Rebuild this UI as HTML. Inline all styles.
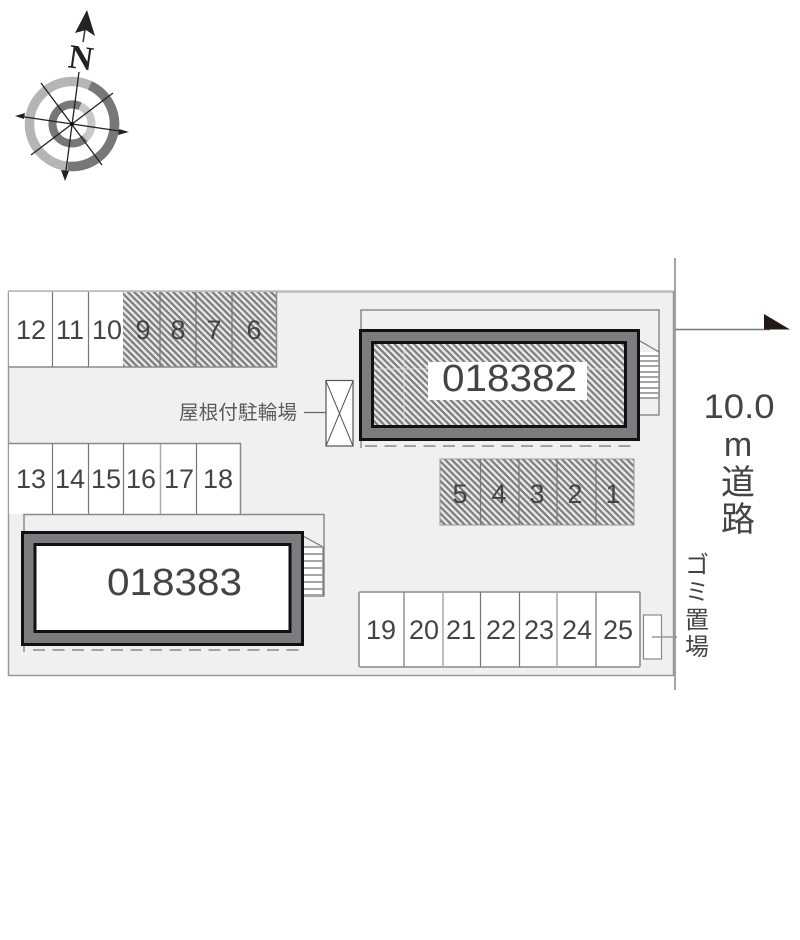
<!DOCTYPE html>
<html><head><meta charset="utf-8"><style>
html,body{margin:0;padding:0;background:#fff}
svg{display:block}
text{font-family:"Liberation Sans","Noto Sans CJK JP",sans-serif;fill:#444}
.n{font-size:27px;text-anchor:middle}
.j{font-size:19.5px;fill:#5a5a5a}
.r{font-size:34px;text-anchor:middle}
.l{stroke:#8a8a8a;stroke-width:1.5;fill:none}
.c{stroke:#777;stroke-width:1.2;fill:none}
</style></head><body>
<svg width="800" height="940" viewBox="0 0 800 940" xmlns="http://www.w3.org/2000/svg">
<defs>
<pattern id="h" width="4.6" height="4.6" patternUnits="userSpaceOnUse" patternTransform="rotate(45)">
<rect width="4.6" height="4.6" fill="#e8e8e8"/><rect width="4.6" height="2.2" fill="#7d7d7d"/>
</pattern>
</defs>
<rect width="800" height="940" fill="#fff"/>
<!-- site -->
<rect x="8.5" y="291.5" width="665" height="384" fill="#f0f0f0" stroke="#999" stroke-width="1.5"/>
<path d="M8 291.5H673" stroke="#bbb" stroke-width="2.5"/>
<!-- top row -->
<rect x="9" y="292" width="114" height="75" fill="#fff"/>
<rect x="123" y="292" width="153" height="75" fill="url(#h)"/>
<path class="l" d="M8.5 367H276.5V292"/>
<path class="c" d="M52.5 292V367M88.5 292V367M160 292V367M196 292V367M232 292V367"/>
<!-- second row -->
<rect x="9" y="444" width="232" height="70" fill="#fff"/>
<path class="l" d="M8.5 443.5H240.5V514"/>
<path class="c" d="M52.5 444V514M88.5 444V514M123.5 444V514M196.5 444V514"/>
<path d="M160.500 444V514" stroke="#aaa" stroke-width="1.5"/>
<!-- building A -->
<path class="l" d="M361 329V310H659V415H639"/>
<path d="M361 440V448" class="c"/>
<path d="M365 446H637" stroke="#888" stroke-width="1.5" stroke-dasharray="12 7.500" fill="none"/>
<rect x="640" y="352" width="19" height="46" fill="#fff"/>
<path d="M640 341L659 352V398" stroke="#777" stroke-width="1.2" fill="none"/>
<path d="M640 356H659M640 361H659M640 366H659M640 372H659M640 377H659M640 382H659M640 388H659M640 393H659M640 398H659" stroke="#999" stroke-width="1.8"/>
<rect x="360.500" y="330.500" width="278" height="109" fill="#7b7b80" stroke="#111" stroke-width="3"/>
<rect x="372.500" y="342.500" width="253" height="84" fill="url(#h)" stroke="#111" stroke-width="3"/>
<path d="M404 344V425M374 369H624" stroke="#e8e8e8" stroke-width="1" opacity=".7"/>
<rect x="428" y="362" width="159" height="38" fill="#fff"/>
<text x="442" y="391" font-size="38" textLength="135" lengthAdjust="spacingAndGlyphs">018382</text>
<!-- building B -->
<path class="l" d="M24 531V514.500H324V596H304"/>
<path d="M24 645V652" class="c"/>
<path d="M33 650H300" stroke="#888" stroke-width="1.5" stroke-dasharray="12 7.500" fill="none"/>
<rect x="304" y="547" width="19" height="49" fill="#fff"/>
<path d="M303 536L323 547V596" stroke="#777" stroke-width="1.2" fill="none"/>
<path d="M304 547H323M304 554H323M304 561H323M304 568H323M304 575H323M304 582H323M304 589H323M304 595H323" stroke="#999" stroke-width="1.8"/>
<rect x="22.500" y="532.500" width="280" height="112" fill="#7b7b80" stroke="#111" stroke-width="3"/>
<rect x="35" y="544.500" width="255" height="87" fill="#fff" stroke="#111" stroke-width="3"/>
<text x="107" y="595" font-size="38" textLength="135" lengthAdjust="spacingAndGlyphs">018383</text>
<!-- 1-5 -->
<rect x="440" y="459" width="194" height="66" fill="url(#h)" stroke="#999" stroke-width="1"/>
<path class="c" d="M480.500 459V525M519 459V525M557 459V525M596 459V525"/>
<!-- 19-25 -->
<rect x="359" y="592" width="281" height="75" rx="1.500" fill="#fff" stroke="#999" stroke-width="1.800"/>
<path class="c" d="M404 592V667M480.500 592V667M519.500 592V667M596 592V667"/>
<path d="M443 592V667M557 592V667" stroke="#aaa" stroke-width="1.500"/>
<!-- trash -->
<rect x="643.500" y="615" width="18" height="44" fill="#fff" stroke="#888" stroke-width="1.200"/>
<path d="M652 637H677" stroke="#999" stroke-width="1.500"/>
<!-- bike -->
<rect x="326" y="380.500" width="27" height="65.500" fill="#fff" stroke="#555" stroke-width="1.200"/>
<path d="M326 381L353 446M353 381L326 446" stroke="#555" stroke-width="1"/>
<path d="M304 412.500H326" stroke="#666" stroke-width="1.200"/>
<!-- road -->
<path d="M675 258V690" stroke="#888" stroke-width="1.500"/>
<path d="M675 329.500H770" stroke="#777" stroke-width="1.500"/>
<path d="M764 314L790 329.500H764Z" fill="#231815"/>
<!-- numbers -->
<g>
<text class="n" x="31" y="339">12</text><text class="n" x="70" y="339">11</text><text class="n" x="107" y="339">10</text><text class="n" x="143" y="339">9</text><text class="n" x="178" y="339">8</text><text class="n" x="214" y="339">7</text><text class="n" x="254" y="339">6</text>
<text class="n" x="31" y="488">13</text><text class="n" x="70" y="488">14</text><text class="n" x="106" y="488">15</text><text class="n" x="141" y="488">16</text><text class="n" x="179" y="488">17</text><text class="n" x="218" y="488">18</text>
<text class="n" x="460" y="503">5</text><text class="n" x="499" y="503">4</text><text class="n" x="537" y="503">3</text><text class="n" x="575" y="503">2</text><text class="n" x="613" y="503">1</text>
<text class="n" x="381" y="639">19</text><text class="n" x="424" y="639">20</text><text class="n" x="461" y="639">21</text><text class="n" x="501" y="639">22</text><text class="n" x="539" y="639">23</text><text class="n" x="577" y="639">24</text><text class="n" x="618" y="639">25</text>
</g>
<text class="j" x="179" y="419" textLength="118">屋根付駐輪場</text>
<text class="r" x="739" y="418" textLength="71" lengthAdjust="spacingAndGlyphs">10.0</text>
<text class="r" x="738" y="456">m</text>
<text class="r" x="738" y="494">道</text>
<text class="r" x="738" y="531">路</text>
<g style="font-size:24px;text-anchor:middle"><text x="697" y="573">ゴ</text><text x="697" y="600">ミ</text><text x="697" y="628">置</text><text x="697" y="655">場</text></g>
<!-- compass -->
<circle cx="72" cy="124" r="42.500" fill="none" stroke="#b5b5b5" stroke-width="9.500"/>
<path d="M90 85.500A42.500 42.500 0 0 1 68 166.300" fill="none" stroke="#777" stroke-width="9.500"/>
<circle cx="72" cy="124" r="19.500" fill="none" stroke="#c8c8c8" stroke-width="8"/>
<path d="M80 106.200A19.500 19.500 0 1 0 85 138.500" fill="none" stroke="#777" stroke-width="8"/>
<path d="M79 72L65 178M18 116L126 132M41 83L102 165M113 93L31 155" stroke="#222" stroke-width="1.300"/>
<path d="M15 116L25 113L24 119ZM129 132L119 129L118 135ZM65 181L61 170L69 171Z" fill="#222"/>
<circle cx="72" cy="124" r="2" fill="#111"/>
<path d="M87 10L95 36L86 30L75 33Z" fill="#222"/>
<path d="M85 30L83 42" stroke="#333" stroke-width="1.500"/>
<text x="81" y="69" text-anchor="middle" transform="rotate(8 81 58)" style="font-family:'Liberation Serif',serif;font-weight:bold;font-size:34px;fill:#222">N</text>
</svg>
</body></html>
